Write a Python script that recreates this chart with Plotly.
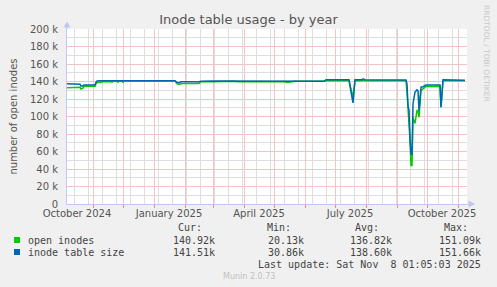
import plotly.graph_objects as go

# ---------------- data (values in thousands) ----------------
dates = [
    "2024-10-06", "2024-10-17", "2024-10-19", "2024-10-20", "2024-10-22", "2024-10-23",
    "2024-11-03", "2024-11-04", "2024-11-05", "2024-11-08", "2024-11-11", "2024-11-19",
    "2024-11-20", "2024-11-21", "2024-11-25", "2024-11-26", "2024-11-27", "2024-11-30",
    "2024-12-01", "2024-12-02", "2025-01-22", "2025-01-24", "2025-01-26", "2025-01-28",
    "2025-01-30", "2025-02-15", "2025-02-16", "2025-02-17", "2025-03-01", "2025-03-11",
    "2025-03-21", "2025-03-26", "2025-04-15", "2025-04-17", "2025-04-18", "2025-05-12",
    "2025-05-14", "2025-05-18", "2025-05-22", "2025-06-20", "2025-06-22", "2025-07-15",
    "2025-07-17", "2025-07-19", "2025-07-21", "2025-07-28", "2025-07-29", "2025-07-31",
    "2025-09-10", "2025-09-11", "2025-09-12", "2025-09-13", "2025-09-14", "2025-09-15",
    "2025-09-16", "2025-09-17", "2025-09-19", "2025-09-21", "2025-09-22", "2025-09-23",
    "2025-09-25", "2025-09-27", "2025-09-30", "2025-10-14", "2025-10-15", "2025-10-17",
    "2025-11-08",
]
open_inodes = [
    133.0, 133.5, 133.5, 131.5, 132.5, 134.5,
    134.5, 137.5, 139.0, 139.0, 139.8, 139.8,
    139.0, 140.2, 140.2, 139.2, 140.2, 140.2,
    139.2, 140.5, 140.5, 137.5, 136.6, 137.5,
    137.8, 137.8, 139.0, 139.8, 139.8, 140.4,
    140.3, 139.6, 139.6, 140.1, 139.6, 139.6,
    138.8, 139.5, 140.2, 140.2, 140.8, 140.8,
    131.0, 122.0, 141.0, 141.0, 141.0, 141.0,
    141.0, 128.0, 112.6, 90.0, 72.6, 44.0,
    44.0, 99.0, 92.0, 107.0, 107.0, 99.0,
    129.7, 131.6, 134.3, 134.3, 110.6, 141.0,
    140.9,
]
table_size = [
    137.4, 137.4, 137.0, 135.0, 135.0, 136.0,
    136.0, 139.0, 140.5, 140.8, 140.8, 140.8,
    140.8, 140.8, 140.8, 140.8, 140.8, 140.8,
    140.8, 140.8, 140.8, 139.0, 138.6, 139.6,
    139.8, 139.8, 140.2, 140.2, 140.6, 140.6,
    140.4, 140.5, 140.5, 140.2, 140.5, 140.5,
    141.0, 141.0, 140.3, 140.3, 142.0, 142.0,
    128.0, 115.6, 142.0, 142.0, 143.0, 142.0,
    141.8, 137.0, 112.0, 107.0, 75.0, 57.0,
    57.0, 114.6, 127.8, 130.5, 129.5, 107.0,
    133.5, 134.0, 136.0, 136.0, 110.6, 142.0,
    141.5,
]

series_names = ["open inodes", "inode table size"]
series_colors = ["#00CC00", "#0066B3"]
cur_vals = ["140.92k", "141.51k"]
min_vals = ["20.13k", "30.86k"]
avg_vals = ["136.82k", "138.60k"]
max_vals = ["151.09k", "151.66k"]

y_tick_vals = [0, 20000, 40000, 60000, 80000, 100000, 120000, 140000, 160000, 180000, 200000]
y_tick_text = ["0", "20 k", "40 k", "60 k", "80 k", "100 k", "120 k", "140 k", "160 k", "180 k", "200 k"]
y_minor_vals = [10000, 30000, 50000, 70000, 90000, 110000, 130000, 150000, 170000, 190000]
x_label_dates = ["2024-10-16", "2025-01-16", "2025-04-16", "2025-07-16", "2025-10-16"]
x_label_text = ["October 2024", "January 2025", "April 2025", "July 2025", "October 2025"]
x_range = ["2024-10-06", "2025-11-10"]

# ---------------- layout geometry ----------------
W, H = 497, 287
L, R, T, B = 67, 30, 29, 83
PW, PH = W - L - R, H - T - B


def px(p):
    return (p - L) / PW


def py(p):
    return (H - B - p) / PH


RED = "#f4c3c3"
GRAY = "#dedede"
AXIS = "#c4c4f4"
TXT = "#555555"
MONO = "DejaVu Sans Mono"
SANS = "DejaVu Sans"

fig = go.Figure()
fig.add_trace(go.Scatter(x=dates, y=[v * 1000 for v in open_inodes], mode="lines",
                         line=dict(color=series_colors[0], width=1.5), name=series_names[0],
                         showlegend=False))
fig.add_trace(go.Scatter(x=dates, y=[v * 1000 for v in table_size], mode="lines",
                         line=dict(color=series_colors[1], width=1.5), name=series_names[1],
                         showlegend=False))
fig.add_trace(go.Scatter(x=[], y=[], xaxis="x2", yaxis="y", showlegend=False, hoverinfo="skip"))

fig.update_layout(
    width=W, height=H,
    margin=dict(l=L, r=R, t=T, b=B, pad=0),
    paper_bgcolor="#f0f0f0", plot_bgcolor="#ffffff",
    font=dict(family=SANS, size=10, color=TXT),
    title=dict(text="Inode table usage - by year", x=0.5, xref="container", xanchor="center",
               y=1 - 19.5 / H, yref="container", yanchor="middle",
               font=dict(family=SANS, size=13, color=TXT)),
    xaxis=dict(
        type="date", range=x_range, showticklabels=False,
        tick0="2024-11-01", dtick="M1",
        showgrid=True, gridcolor=RED, griddash="solid", gridwidth=1,
        ticks="outside", ticklen=3, tickcolor="#eb8a8a",
        minor=dict(tick0="2024-10-13", dtick=14 * 86400000, showgrid=True,
                   gridcolor=GRAY, griddash="solid", gridwidth=1, ticks=""),
        showline=True, linecolor=AXIS, linewidth=1, zeroline=False, fixedrange=True,
    ),
    xaxis2=dict(
        type="date", overlaying="x", matches="x", anchor="y", side="bottom",
        tickmode="array", tickvals=x_label_dates, ticktext=x_label_text,
        showgrid=False, ticks="", showline=False, zeroline=False,
        tickfont=dict(family=SANS, size=10, color=TXT), ticklabelstandoff=2,
    ),
    yaxis=dict(
        range=[0, 200000], tickmode="array", tickvals=y_tick_vals, ticktext=y_tick_text,
        showgrid=True, gridcolor=RED, griddash="solid", gridwidth=1,
        minor=dict(tickmode="array", tickvals=y_minor_vals, showgrid=True,
                   gridcolor=GRAY, griddash="solid", gridwidth=1),
        showline=True, linecolor=AXIS, linewidth=1, zeroline=False, ticks="",
        ticklabelstandoff=6, tickfont=dict(family=SANS, size=10, color=TXT),
        title=dict(text="number of open inodes", font=dict(family=SANS, size=10, color=TXT), standoff=10),
        fixedrange=True,
    ),
)

shapes = []
# axis arrows
shapes.append(dict(type="line", xref="paper", yref="paper", x0=1, x1=px(470), y0=0, y1=0,
                   line=dict(color=AXIS, width=1)))
shapes.append(dict(type="path", xref="paper", yref="paper",
                   path=f"M {px(468.5)},{py(200.5)} L {px(475)},{py(204)} L {px(468.5)},{py(207.5)} Z",
                   fillcolor=AXIS, line=dict(color=AXIS, width=0)))
shapes.append(dict(type="line", xref="paper", yref="paper", x0=0, x1=0, y0=1, y1=py(26),
                   line=dict(color=AXIS, width=1)))
shapes.append(dict(type="path", xref="paper", yref="paper",
                   path=f"M {px(63.5)},{py(27.5)} L {px(67)},{py(21.5)} L {px(70.5)},{py(27.5)} Z",
                   fillcolor=AXIS, line=dict(color=AXIS, width=0)))

annotations = []


def txt(text, x, y, xanchor="left", size=10, color="#333333", family=MONO, **kw):
    annotations.append(dict(text=text, x=px(x), y=py(y), xref="paper", yref="paper",
                            xanchor=xanchor, yanchor="middle", showarrow=False,
                            font=dict(family=family, size=size, color=color), **kw))


# legend header
header_y = 227
col_right = [204, 293, 381, 470]
val_right = [217, 306, 394, 483]
for hdr, xr in zip(["Cur:", "Min:", "Avg:", "Max:"], col_right):
    txt(hdr, xr, header_y, xanchor="right", color="#444444")

rows_y = [240, 252]
for i in range(2):
    yy = rows_y[i]
    shapes.append(dict(type="rect", xref="paper", yref="paper",
                       x0=px(14), x1=px(20), y0=py(yy - 3), y1=py(yy + 3),
                       fillcolor=series_colors[i], line=dict(width=0)))
    txt(series_names[i], 26, yy, color="#444444")
    for v, xr in zip([cur_vals[i], min_vals[i], avg_vals[i], max_vals[i]], val_right):
        txt(v, xr, yy, xanchor="right", color="#444444")

txt("Last update: Sat Nov  8 01:05:03 2025", 483, 264, xanchor="right", color="#444444")
txt("Munin 2.0.73", 248.5, 276, xanchor="center", size=8, color="#c0c0c0", family=SANS)
annotations.append(dict(text="RRDTOOL / TOBI OETIKER", x=px(487), y=py(53), xref="paper", yref="paper",
                        xanchor="center", yanchor="middle", showarrow=False, textangle=90,
                        font=dict(family=SANS, size=7.5, color="#c8c8c8")))

fig.update_layout(shapes=shapes, annotations=annotations)
fig.write_html("out.html")
